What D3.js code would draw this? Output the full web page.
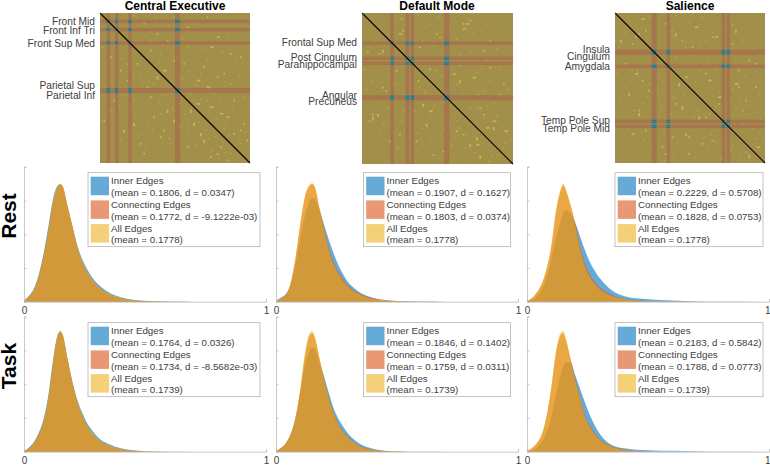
<!DOCTYPE html>
<html><head><meta charset="utf-8">
<style>html,body{margin:0;padding:0;background:#fff}svg{display:block}text{font-family:"Liberation Sans",Arial,sans-serif}</style>
<script src="https://cdn.jsdelivr.net/npm/d3@7/dist/d3.min.js"></script></head><body>
<script>
// ---- data ----
const networks = ["Central Executive","Default Mode","Salience"];
const conditions = ["Rest","Task"];
const regionCount = 90;

const ceRegions = ["Front Mid","Front Inf Tri","Front Sup Med","Parietal Sup","Parietal Inf"];
const ceLabelAt = [5.2,10.2,18.4,43.2,49.6];
const ceCells = [4,5,9,10,17,18,45,46,47];
const ceSpecks = [[34,38],[32,62],[62,76],[14,70],[20,66],[8,52],[28,44],[56,66],[70,84],[22,30],[40,58],[52,80],[12,34],[60,72],[36,74],[66,86],[24,78],[44,64],[6,26],[72,80],[30,50],[54,58],[26,84],[16,40],[76,88],[2,64],[38,70],[34,39],[62,77],[20,67],[56,67],[40,59],[60,73],[44,65],[54,59],[14,71]];
const ceFaint = [[1,20],[3,33],[7,41],[11,55],[13,27],[15,49],[19,37],[21,61],[23,73],[25,43],[27,81],[29,35],[31,69],[35,53],[37,83],[39,49],[41,75],[43,57],[48,68],[50,86],[51,60],[53,72],[57,79],[59,65],[61,85],[63,70],[65,75],[67,82],[69,74],[71,87],[73,77],[75,83],[78,84],[2,44],[6,58],[12,76],[16,30],[20,52],[24,36],[28,64],[32,42],[36,60],[42,78],[48,54],[52,64]];

const dmRegions = ["Frontal Sup Med","Post Cingulum","Parahippocampal","Angular","Precuneus"];
const dmLabelAt = [17.6,26.5,30.9,49.3,53];
const dmCells = [17,18,26,27,29,30,49,50,51];
const dmSpecks = [[3,23],[6,62],[4,64],[9,60],[12,22],[24,10],[22,72],[33,40],[38,66],[42,84],[44,12],[56,70],[60,6],[64,78],[66,18],[68,74],[70,86],[72,60],[76,32],[78,68],[14,46],[36,54],[58,40],[16,76],[48,82],[20,34],[6,63],[9,61],[12,23],[38,67],[64,79],[68,75],[70,85],[78,69],[36,55],[58,41]];
const dmFaint = [[1,33],[2,45],[8,38],[10,70],[11,28],[15,56],[19,42],[21,80],[23,64],[25,48],[28,74],[31,58],[32,82],[34,44],[35,68],[40,76],[41,62],[43,54],[45,86],[46,72],[47,60],[52,66],[53,78],[54,84],[55,74],[57,68],[61,80],[62,72],[63,87],[67,83],[73,81],[75,88],[77,85],[80,84],[4,20],[6,40],[9,52],[12,66],[16,36],[24,58],[33,71],[37,47],[42,56],[48,69],[56,64]];

const saRegions = ["Insula","Cingulum","Amygdala","Temp Pole Sup","Temp Pole Mid"];
const saLabelAt = [21.8,25.8,31.8,64.2,69.4];
const saCells = [22,23,24,31,32,64,65,67,68];
const saSpecks = [[3,16],[8,48],[10,18],[12,14],[14,60],[18,70],[28,80],[36,12],[38,42],[40,56],[42,72],[44,84],[46,20],[50,62],[54,36],[58,14],[62,54],[72,10],[74,44],[76,58],[80,86],[84,30],[6,30],[16,40],[34,74],[52,78],[3,17],[8,49],[14,61],[36,13],[38,43],[40,57],[42,73],[50,63],[72,11],[80,85]];
const saFaint = [[1,36],[2,52],[5,44],[7,70],[11,58],[13,34],[17,76],[19,50],[21,82],[25,46],[26,66],[27,56],[28,40],[29,72],[30,88],[33,60],[35,84],[37,78],[41,48],[45,70],[47,62],[48,86],[49,58],[53,74],[55,80],[56,60],[57,72],[59,83],[60,77],[61,70],[63,87],[66,76],[69,82],[70,79],[71,86],[75,84],[77,88],[78,83],[2,20],[6,12],[10,34],[16,54],[20,42],[26,36],[34,50]];

const binX = [0,.02,.04,.06,.08,.1,.12,.14,.15,.16,.18,.2,.22,.24,.26,.28,.3,.32,.35,.4,.45,.5,.6,.7,.8,1];

const restCeInner = [.03,.17,.38,.78,1.4,2.2,3.05,3.45,3.48,3.4,2.82,2.25,1.68,1.27,.98,.74,.56,.43,.28,.13,.06,.025,.006,.002,0,0];
const restCeConn  = [.03,.15,.34,.73,1.32,2.08,2.95,3.4,3.48,3.42,2.83,2.22,1.62,1.18,.88,.65,.48,.36,.22,.1,.04,.018,.004,.001,0,0];
const restCeAll   = [.03,.15,.34,.73,1.32,2.1,2.98,3.43,3.5,3.43,2.84,2.25,1.65,1.22,.92,.68,.5,.38,.24,.11,.05,.02,.004,.001,0,0];

const restDmInner = [.03,.12,.22,.5,1.1,1.85,2.55,3.0,3.07,3.05,2.7,2.25,1.8,1.4,1.05,.78,.56,.42,.26,.12,.05,.02,.005,.001,0,0];
const restDmConn  = [.02,.1,.2,.52,1.25,2.25,3.1,3.44,3.48,3.4,2.77,2.14,1.55,1.13,.85,.64,.46,.35,.22,.1,.045,.02,.004,.001,0,0];
const restDmAll   = [.02,.1,.2,.55,1.3,2.3,3.15,3.47,3.51,3.4,2.75,2.1,1.5,1.08,.8,.6,.43,.32,.2,.09,.04,.02,.004,.001,0,0];

const restSaInner = [.02,.05,.15,.35,.7,1.25,1.9,2.4,2.62,2.7,2.62,2.33,1.92,1.52,1.17,.92,.7,.54,.34,.17,.1,.07,.035,.015,.005,0];
const restSaConn  = [.02,.1,.26,.5,.93,1.6,2.65,3.3,3.44,3.3,2.85,2.3,1.62,1.12,.8,.6,.43,.32,.2,.09,.04,.015,.004,.001,0,0];
const restSaAll   = [.02,.1,.27,.52,.96,1.65,2.72,3.36,3.51,3.35,2.85,2.25,1.55,1.05,.74,.54,.38,.28,.17,.08,.035,.015,.004,.001,0,0];

const taskCeInner = [.02,.12,.28,.55,.95,1.65,2.72,3.48,3.56,3.46,2.75,2.08,1.55,1.17,.86,.65,.47,.34,.23,.1,.04,.015,.003,.001,0,0];
const taskCeConn  = [.02,.1,.25,.5,.87,1.55,2.62,3.44,3.55,3.46,2.74,2.05,1.48,1.09,.78,.56,.39,.28,.18,.07,.03,.012,.002,0,0,0];
const taskCeAll   = [.02,.1,.25,.5,.88,1.57,2.65,3.48,3.59,3.48,2.75,2.06,1.5,1.12,.8,.59,.41,.29,.2,.08,.03,.012,.002,0,0,0];

const taskDmInner = [.03,.1,.24,.5,.98,1.75,2.6,3.0,3.08,3.05,2.65,2.2,1.7,1.25,.95,.72,.52,.38,.22,.09,.03,.012,.003,.001,0,0];
const taskDmConn  = [.02,.1,.24,.5,.98,1.8,2.85,3.45,3.5,3.38,2.75,2.12,1.58,1.13,.8,.58,.42,.29,.16,.065,.022,.009,.002,0,0,0];
const taskDmAll   = [.02,.1,.25,.52,1.0,1.85,2.95,3.52,3.57,3.42,2.78,2.1,1.55,1.1,.78,.56,.4,.28,.15,.06,.02,.008,.002,0,0,0];

const taskSaInner = [.01,.04,.12,.28,.55,1.0,1.7,2.3,2.5,2.65,2.65,2.25,1.85,1.45,1.08,.78,.54,.36,.2,.1,.06,.045,.025,.01,.003,0];
const taskSaConn  = [.02,.1,.24,.48,1.0,1.85,2.92,3.45,3.5,3.32,2.75,2.15,1.6,1.06,.77,.55,.38,.27,.16,.065,.022,.008,.002,0,0,0];
const taskSaAll   = [.02,.1,.25,.5,1.03,1.9,3.0,3.53,3.57,3.38,2.75,2.1,1.57,1.03,.74,.52,.36,.25,.15,.06,.02,.007,.002,0,0,0];

const restCeLegend = ["(mean = 0.1806, d = 0.0347)","(mean = 0.1772, d = -9.1222e-03)","(mean = 0.1778)"];
const restDmLegend = ["(mean = 0.1907, d = 0.1627)","(mean = 0.1803, d = 0.0374)","(mean = 0.1778)"];
const restSaLegend = ["(mean = 0.2229, d = 0.5708)","(mean = 0.1828, d = 0.0753)","(mean = 0.1778)"];
const taskCeLegend = ["(mean = 0.1764, d = 0.0326)","(mean = 0.1734, d = -8.5682e-03)","(mean = 0.1739)"];
const taskDmLegend = ["(mean = 0.1846, d = 0.1402)","(mean = 0.1759, d = 0.0311)","(mean = 0.1739)"];
const taskSaLegend = ["(mean = 0.2183, d = 0.5842)","(mean = 0.1788, d = 0.0773)","(mean = 0.1739)"];
const seriesNames = ["Inner Edges","Connecting Edges","All Edges"];
const seriesColors = ["#0072BD","#D95319","#EDB120"];
const xTicks = [0,1];
const yTicks = [0,1,2,3,4];

// ---- layout ----
const W=770,H=465;
const svg=d3.select("body").append("svg").attr("width",W).attr("height",H);
const txt="#404040", axisC="#bdbdbd";
svg.append("defs").append("filter").attr("id","soft").attr("x",0).attr("y",0).attr("width",1).attr("height",1)
  .append("feGaussianBlur").attr("stdDeviation",.45);

const matrices=[
 {x:100,w:150,name:networks[0],labels:ceRegions,at:ceLabelAt,cells:ceCells,specks:ceSpecks,faint:ceFaint,tx:175},
 {x:362,w:151,name:networks[1],labels:dmRegions,at:dmLabelAt,cells:dmCells,specks:dmSpecks,faint:dmFaint,tx:437},
 {x:615,w:150,name:networks[2],labels:saRegions,at:saLabelAt,cells:saCells,specks:saSpecks,faint:saFaint,tx:690}
];
const cellIdx=d3.range(regionCount);
const cellColor=d3.scaleOrdinal().domain(["band","inner","speck","faint"]).range(["#A7734F","#14809F","#C8B35F","#B39F53"]);

matrices.forEach(m=>{
  const g=svg.append("g");
  const s=d3.scaleBand().domain(cellIdx).range([m.x,m.x+m.w]);
  const sy=d3.scaleBand().domain(cellIdx).range([13,13+m.w]);
  const ly=d3.scaleLinear().domain([0,regionCount]).range([13,13+m.w]);
  const lx=d3.scaleLinear().domain([0,regionCount]).range([m.x,m.x+m.w]);
  const img=g.append("g").attr("filter","url(#soft)");
  img.append("rect").attr("x",m.x).attr("y",13).attr("width",m.w).attr("height",m.w).attr("fill","#A28F49");
  const inSet=new Set(m.cells), cells=[];
  m.faint.forEach(([a,b])=>{cells.push({r:a,c:b,k:"faint"});cells.push({r:b,c:a,k:"faint"});});
  m.specks.forEach(([a,b])=>{cells.push({r:a,c:b,k:"speck"});cells.push({r:b,c:a,k:"speck"});});
  cellIdx.forEach(r=>cellIdx.forEach(c=>{
    const ir=inSet.has(r),ic=inSet.has(c);
    if(r===c) return;
    if(ir&&ic) cells.push({r,c,k:"inner"});
    else if(ir||ic) cells.push({r,c,k:"band"});
  }));
  img.selectAll("rect.c").data(cells).join("rect").attr("class","c")
    .attr("x",d=>s(d.c)).attr("y",d=>sy(d.r)).attr("width",s.bandwidth()+.05).attr("height",sy.bandwidth()+.05)
    .attr("fill",d=>cellColor(d.k));
  g.append("line").attr("x1",lx(0)).attr("y1",ly(0)).attr("x2",lx(regionCount)).attr("y2",ly(regionCount))
    .attr("stroke","#000").attr("stroke-width",1.1);
  // edge ticks
  const tv=d3.range(0,regionCount,2);
  [m.x,m.x+m.w].forEach((ex,i)=>{
    g.selectAll(null).data(tv).join("line")
     .attr("x1",ex).attr("x2",ex+(i?-1.5:1.5)).attr("y1",d=>ly(d+.5)).attr("y2",d=>ly(d+.5))
     .attr("stroke","#8f8f8f").attr("stroke-width",.5);
  });
  g.selectAll("text.lab").data(m.labels).join("text").attr("class","lab")
    .attr("x",m.x-5).attr("y",(d,i)=>ly(m.at[i])).attr("dy","0.35em").attr("text-anchor","end")
    .attr("font-size",10.2).attr("fill",txt).text(d=>d);
  svg.append("text").attr("x",m.tx).attr("y",9.5).attr("text-anchor","middle")
    .attr("font-size",12).attr("font-weight","bold").attr("fill","#000").text(m.name);
});

const panels=[
 {x0:24,base:301.7,inner:restCeInner,conn:restCeConn,all:restCeAll,leg:restCeLegend,lx:88,lw:172},
 {x0:276,base:301.7,inner:restDmInner,conn:restDmConn,all:restDmAll,leg:restDmLegend,lx:363.5,lw:147},
 {x0:527,base:301.7,inner:restSaInner,conn:restSaConn,all:restSaAll,leg:restSaLegend,lx:615,lw:148},
 {x0:24,base:451.7,inner:taskCeInner,conn:taskCeConn,all:taskCeAll,leg:taskCeLegend,lx:88,lw:172},
 {x0:276,base:451.7,inner:taskDmInner,conn:taskDmConn,all:taskDmAll,leg:taskDmLegend,lx:363.5,lw:147},
 {x0:527,base:451.7,inner:taskSaInner,conn:taskSaConn,all:taskSaAll,leg:taskSaLegend,lx:615,lw:148}
];
panels.forEach(p=>{
  const g=svg.append("g");
  const x=d3.scaleLinear().domain([0,1]).range([p.x0,p.x0+242]);
  const y=d3.scaleLinear().domain([0,4]).range([p.base,p.base-135]);
  const area=d3.area().x((d,i)=>x(binX[i])).y0(y(0)).y1(d=>y(d)).curve(d3.curveMonotoneX);
  [p.inner,p.conn,p.all].forEach((s,i)=>{
    g.append("path").attr("d",area(s)).attr("fill",seriesColors[i]).attr("fill-opacity",.6);
  });
  const ax=g.append("g").attr("transform",`translate(0,${p.base})`)
    .call(d3.axisBottom(x).tickValues(xTicks).tickSize(-2.5).tickFormat(d3.format("d")).tickPadding(5.5));
  const ay=g.append("g").attr("transform",`translate(${p.x0},0)`)
    .call(d3.axisLeft(y).tickValues(yTicks).tickSize(-2.5).tickFormat(""));
  [ax,ay].forEach(a=>{a.selectAll(".domain,line").attr("stroke",axisC).attr("stroke-width",.8);});
  ax.selectAll("text").attr("font-size",10).attr("fill",txt).attr("font-family",'"Liberation Sans"')
    .attr("dx",(d,i)=> (i===1&&p.x0>500)?-1.8:0);
  ay.selectAll("text").remove();
  // legend
  const top=p.base-129;
  const lg=g.append("g").attr("transform",`translate(${p.lx},${top})`);
  lg.append("rect").attr("x",0).attr("y",0).attr("width",p.lw).attr("height",74)
    .attr("fill","#fff").attr("stroke","#a8a8a8").attr("stroke-width",.7);
  seriesNames.forEach((n,i)=>{
    const row=lg.append("g").attr("transform",`translate(0,${i*23.7})`);
    row.append("rect").attr("x",2.7).attr("y",4).attr("width",18.3).attr("height",18.5)
      .attr("fill",seriesColors[i]).attr("fill-opacity",.6);
    row.append("text").attr("x",23).attr("y",8).attr("dy","0.35em").attr("font-size",9.75).attr("fill",txt).text(n);
    row.append("text").attr("x",23).attr("y",19.7).attr("dy","0.35em").attr("font-size",9.75).attr("fill",txt).text(p.leg[i]);
  });
});
conditions.forEach((c,i)=>{
  const cy=[216,366][i];
  svg.append("text").attr("transform",`translate(16,${cy}) rotate(-90)`).attr("text-anchor","middle")
    .attr("font-size",21).attr("font-weight","bold").attr("fill","#000").text(c);
});
</script></body></html>
